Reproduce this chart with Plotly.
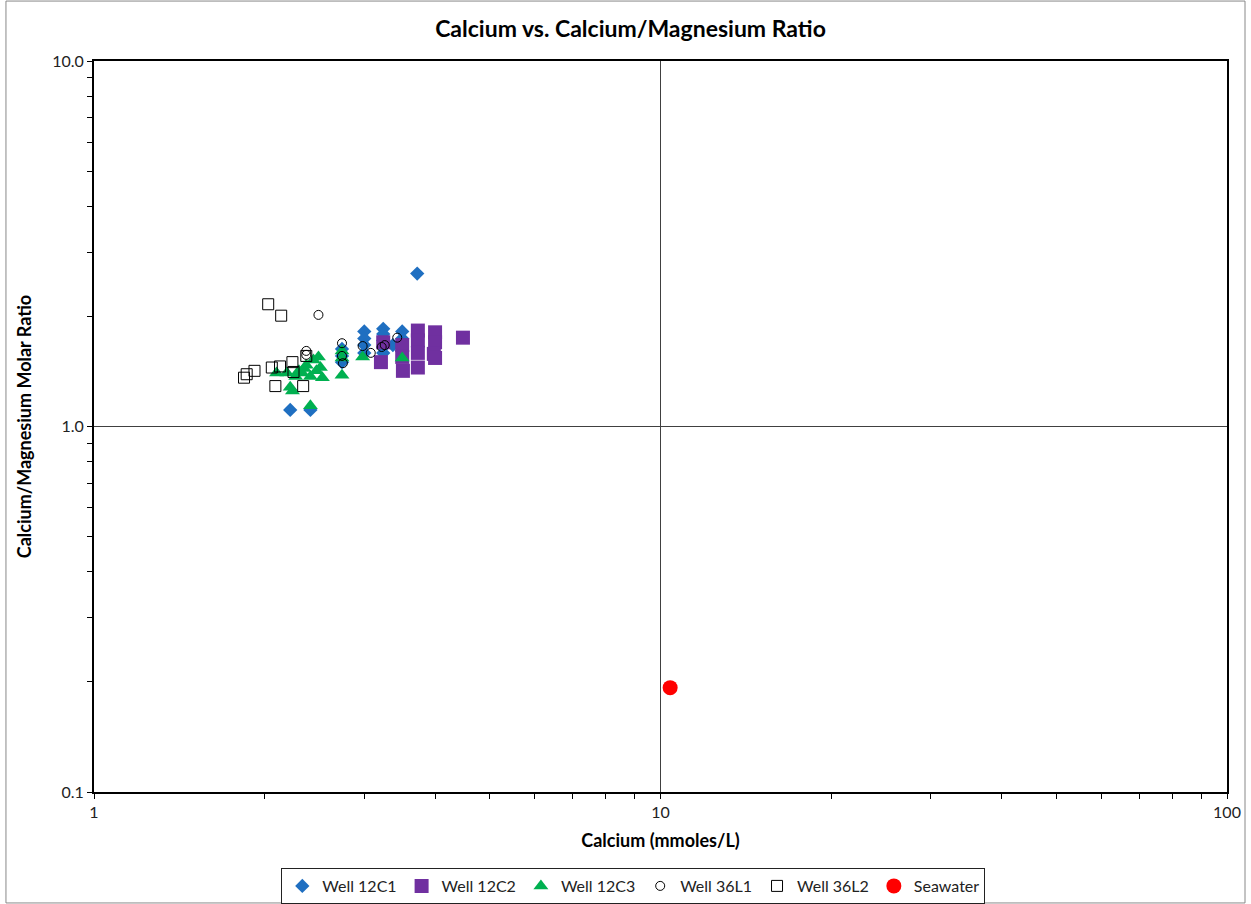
import plotly.graph_objects as go

# Well 12C1 (blue diamonds)
c1_ca = [2.22, 2.41, 3.72, 2.74, 2.74, 2.74, 3.00, 3.00, 3.00, 3.00, 3.24, 3.24, 3.24, 3.24, 3.50, 3.50, 3.37, 3.24]
c1_ratio = [1.11, 1.11, 2.62, 1.63, 1.56, 1.50, 1.82, 1.74, 1.67, 1.59, 1.85, 1.79, 1.72, 1.65, 1.82, 1.74, 1.67, 1.59]

# Well 12C2 (purple squares)
c2_ca = [3.21, 3.24, 3.51, 3.50, 3.50, 3.73, 3.73, 3.73, 3.73, 4.00, 4.00, 3.98, 4.00, 4.48]
c2_ratio = [1.50, 1.70, 1.42, 1.67, 1.55, 1.45, 1.83, 1.72, 1.59, 1.81, 1.70, 1.58, 1.54, 1.75]

# Well 12C3 (green triangles)
c3_ca = [2.10, 2.19, 2.24, 2.22, 2.30, 2.35, 2.33, 2.44, 2.49, 2.51, 2.53, 2.41, 2.37, 2.41, 2.74, 2.74, 2.74, 2.98, 3.50, 2.47, 2.27]
c3_ratio = [1.40, 1.40, 1.25, 1.28, 1.42, 1.44, 1.40, 1.52, 1.55, 1.45, 1.36, 1.37, 1.47, 1.14, 1.38, 1.61, 1.54, 1.55, 1.54, 1.42, 1.37]

# Well 36L1 (open circles)
l1_ca = [2.49, 2.37, 2.37, 2.74, 2.74, 2.75, 2.98, 3.08, 3.22, 3.26, 3.43]
l1_ratio = [2.02, 1.61, 1.57, 1.69, 1.56, 1.49, 1.66, 1.59, 1.65, 1.67, 1.75]

# Well 36L2 (open squares)
l2_ca = [2.03, 2.14, 1.84, 1.86, 1.92, 2.06, 2.13, 2.24, 2.25, 2.09, 2.34, 2.37]
l2_ratio = [2.16, 2.01, 1.36, 1.39, 1.42, 1.45, 1.46, 1.50, 1.41, 1.29, 1.29, 1.56]

# Seawater
sw_ca = [10.4]
sw_ratio = [0.193]

# Tick positions (decades labelled, 2..9 multiples as unlabeled minor ticks)
x_major = [1, 10, 100]
x_major_text = ["1", "10", "100"]
y_major = [0.1, 1, 10]
y_major_text = ["0.1", "1.0", "10.0"]
x_minor = [m * d for d in (1, 10) for m in range(2, 10)]
y_minor = [m * d for d in (0.1, 1) for m in range(2, 10)]

x_ticks = x_major + x_minor
x_ticktext = x_major_text + [""] * len(x_minor)
y_ticks = y_major + y_minor
y_ticktext = y_major_text + [""] * len(y_minor)

FONT = "Lato, Open Sans, sans-serif"

fig = go.Figure()
fig.add_trace(go.Scatter(x=c1_ca, y=c1_ratio, mode="markers", name="Well 12C1",
                         marker=dict(symbol="diamond", size=11, color="#1F6FC1")))
fig.add_trace(go.Scatter(x=c2_ca, y=c2_ratio, mode="markers", name="Well 12C2",
                         marker=dict(symbol="square", size=14, color="#7030A0")))
fig.add_trace(go.Scatter(x=c3_ca, y=c3_ratio, mode="markers", name="Well 12C3",
                         marker=dict(symbol="triangle-up", size=13, color="#00B050")))
fig.add_trace(go.Scatter(x=l1_ca, y=l1_ratio, mode="markers", name="Well 36L1",
                         marker=dict(symbol="circle-open", size=9, color="black", line=dict(width=1))))
fig.add_trace(go.Scatter(x=l2_ca, y=l2_ratio, mode="markers", name="Well 36L2",
                         marker=dict(symbol="square-open", size=11, color="black", line=dict(width=1))))
fig.add_trace(go.Scatter(x=sw_ca, y=sw_ratio, mode="markers", name="Seawater",
                         marker=dict(symbol="circle", size=15, color="#FF0000")))

fig.update_layout(
    width=1251, height=904,
    margin=dict(l=94, r=24, t=61, b=112),
    paper_bgcolor="white", plot_bgcolor="white",
    font=dict(family=FONT, size=15, color="#222"),
    title=dict(text="<b>Calcium vs. Calcium/Magnesium Ratio</b>", x=0.504, xanchor="center",
               y=1 - 29 / 904, yanchor="middle", font=dict(size=23, color="black")),
    showlegend=True,
    legend=dict(orientation="h", x=0.476, xanchor="center",
                yref="container", y=1 - 868 / 904, yanchor="top",
                bordercolor="#222", borderwidth=1, font=dict(size=16, color="#222"),
                itemwidth=30, tracegroupgap=0),
    shapes=[
        dict(type="rect", xref="paper", yref="paper",
             x0=-0.0777, x1=1.0159, y0=-0.1518, y1=1.082,
             line=dict(color="#888", width=1), layer="below"),
        dict(type="line", xref="x", yref="paper", x0=10, x1=10, y0=0, y1=1,
             line=dict(color="#404040", width=1), layer="below"),
        dict(type="line", xref="paper", yref="y", x0=0, x1=1, y0=1, y1=1,
             line=dict(color="#404040", width=1), layer="below"),
    ],
)

fig.update_xaxes(
    type="log", range=[0, 2], tickvals=x_ticks, ticktext=x_ticktext,
    ticks="outside", ticklen=5, tickcolor="black", tickfont=dict(size=16, color="#222"),
    showgrid=False, automargin=False,
    showline=True, linecolor="black", linewidth=2, mirror=True,
    title=dict(text="<b>Calcium (mmoles/L)</b>", font=dict(size=18, color="black"), standoff=14),
    zeroline=False,
)
fig.update_yaxes(
    type="log", range=[-1, 1], tickvals=y_ticks, ticktext=y_ticktext,
    ticks="outside", ticklen=5, tickcolor="black", tickfont=dict(size=16, color="#222"),
    showgrid=False, automargin=False,
    showline=True, linecolor="black", linewidth=2, mirror=True,
    title=dict(text="<b>Calcium/Magnesium Molar Ratio</b>", font=dict(size=18, color="black"), standoff=16),
    zeroline=False,
)

fig.write_html("out.html", config={"displayModeBar": False},
               post_script="document.body.style.margin='0px';document.body.style.overflow='hidden';")
